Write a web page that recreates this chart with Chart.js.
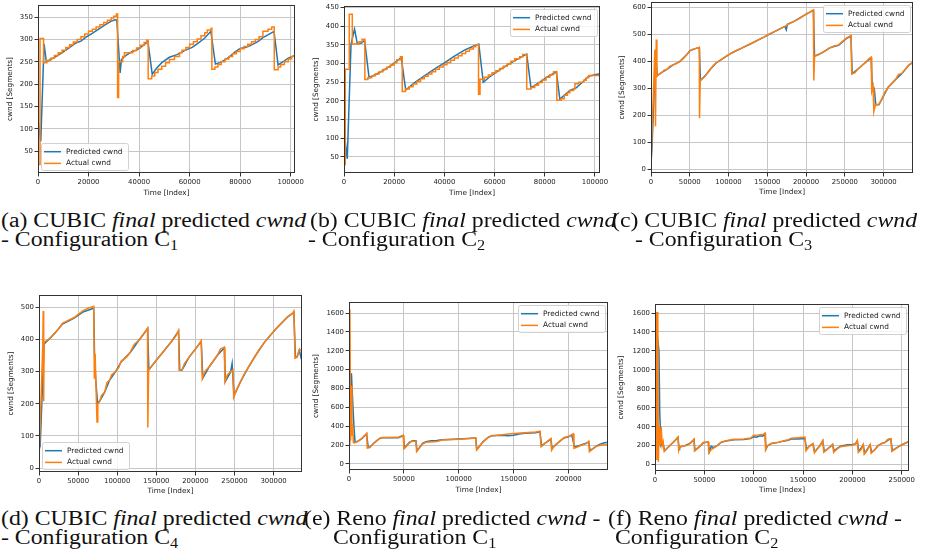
<!DOCTYPE html>
<html>
<head>
<meta charset="utf-8">
<script src="https://cdn.jsdelivr.net/npm/chart.js@4.4.1/dist/chart.umd.min.js"></script>
<style>
  html, body { margin: 0; padding: 0; background: #fff; }
  #page { position: relative; width: 926px; height: 560px; overflow: hidden; background: #fff; }
  #page canvas { position: absolute; }
  .cap { position: absolute; white-space: nowrap; font-family: 'Liberation Serif', serif; font-size: 20.5px; line-height: 20.5px; color: #111; transform-origin: 0 0; }
  .cap .sub { font-size: 14px; line-height: 0; vertical-align: -4px; }
</style>
</head>
<body>
<div id="page"></div>
<script>
// ---- tick values ----
const xTicks20k = [0, 20000, 40000, 60000, 80000, 100000];
const xTicks50k = [0, 50000, 100000, 150000, 200000, 250000, 300000];
const xTicksReno1 = [0, 50000, 100000, 150000, 200000];
const xTicksReno2 = [0, 50000, 100000, 150000, 200000, 250000];
const yTicksA = [50, 100, 150, 200, 250, 300, 350];
const yTicksB = [50, 100, 150, 200, 250, 300, 350, 400, 450];
const yTicksC = [0, 100, 200, 300, 400, 500, 600];
const yTicksD = [0, 100, 200, 300, 400, 500];
const yTicksReno = [0, 200, 400, 600, 800, 1000, 1200, 1400, 1600];

// ---- (a) CUBIC, C1 : [index, cwnd] ----
const aPredicted = [[0,120],[1100,72],[2400,290],[3300,250],[6000,258],[9000,268],[12000,280],[15000,292],[17000,296],[19000,305],[21000,312],[24000,323],[27000,334],[29000,341],[30500,344],[31200,343],[32500,225],[33000,255],[35000,265],[37000,272],[39000,276],[41000,284],[43500,295],[45200,222],[47000,236],[49000,248],[52000,260],[55000,266],[58000,275],[61000,282],[63000,290],[66000,303],[68400,318],[70200,245],[72000,248],[74000,254],[76000,262],[78000,272],[80000,280],[82000,282],[84000,286],[87000,295],[89000,304],[91500,312],[93400,318],[95000,243],[97000,250],[99000,258],[101700,264]];
const aActual = [[0,20],[800,302],[2200,248],[3500,253],[5000,258],[6500,264],[8000,270],[9500,276],[11000,282],[12500,288],[14000,294],[15500,300],[17000,306],[18500,312],[20000,318],[21500,323],[23000,328],[24500,333],[26000,338],[27500,343],[29000,348],[30000,352],[31000,357],[31500,170],[31900,250],[33500,262],[34200,270],[37500,275],[39000,281],[40500,287],[42000,293],[43000,298],[43600,212],[45000,218],[46200,226],[47500,233],[49000,240],[50500,248],[52000,255],[54000,262],[56000,270],[57000,276],[58500,282],[60000,289],[61500,295],[63000,301],[64500,308],[66000,315],[67000,321],[68500,325],[68800,233],[70000,238],[71200,244],[72500,250],[74000,256],[75500,262],[77000,268],[78500,273],[80000,279],[81500,284],[83000,289],[84500,295],[86000,300],[87500,306],[89000,318],[91000,323],[92500,328],[93500,232],[95000,238],[96000,244],[97500,250],[99000,256],[100300,262],[101700,265]];

// ---- (b) CUBIC, C2 ----
const bPredicted = [[0,120],[1300,45],[2800,352],[4200,392],[5300,353],[7000,355],[8200,362],[10000,262],[13000,272],[16000,283],[19000,296],[22000,312],[22800,316],[24600,229],[28000,248],[32000,267],[36000,285],[40000,302],[44000,320],[48000,336],[51000,345],[53700,352],[55500,250],[58000,264],[62000,283],[66000,300],[70000,315],[72800,325],[74500,235],[78000,250],[81000,264],[84600,278],[86000,205],[88000,216],[90000,228],[92500,235],[95000,250],[97500,266],[100000,270],[102000,273]];
const bActual = [[0,30],[500,285],[2100,432],[3300,352],[6000,358],[7200,365],[8300,257],[9500,262],[11000,267],[12500,272],[14000,278],[15500,284],[17000,290],[18500,296],[20000,302],[21000,310],[22500,318],[23200,225],[24500,232],[26000,238],[27500,245],[29000,252],[30500,259],[32000,266],[33500,272],[35000,278],[36500,285],[38000,291],[39500,297],[41000,303],[42500,309],[44000,315],[45500,321],[47000,327],[48500,333],[50000,339],[51500,345],[52500,350],[53600,218],[54200,258],[56000,263],[57500,269],[59000,275],[60500,281],[62000,287],[63500,293],[65000,299],[66500,306],[68000,313],[70000,318],[71200,324],[72800,232],[74500,236],[76000,242],[77500,249],[79000,256],[80500,263],[82000,270],[83500,278],[84800,202],[86500,206],[87800,215],[89000,222],[90000,228],[91500,232],[92000,246],[93500,250],[95500,255],[96500,262],[97500,268],[102000,270]];

// ---- (c) CUBIC, C3 ----
const cPredicted = [[0,20],[1300,83],[6000,430],[8000,348],[14000,360],[21000,372],[28000,387],[37000,400],[46000,425],[50000,440],[58000,449],[62300,452],[63800,330],[70000,348],[76000,370],[84000,395],[93000,412],[104000,432],[117000,450],[130000,468],[145000,490],[160000,512],[170000,527],[173000,530],[174500,518],[176000,538],[185000,550],[198000,572],[209500,590],[211000,420],[221000,433],[230000,450],[236000,456],[242000,460],[252000,485],[258000,495],[259500,355],[266000,370],[274000,390],[284000,414],[285500,300],[288000,300],[290000,240],[294000,240],[298000,262],[306000,305],[316000,335],[324000,357],[333000,388],[338000,397]];
const cActual = [[0,18],[5000,445],[5800,160],[6800,482],[7600,345],[10000,352],[14000,360],[17000,368],[21000,372],[24000,382],[28000,387],[32000,392],[37000,400],[42000,412],[46000,425],[50000,440],[54000,446],[58000,449],[62300,453],[62600,190],[63500,330],[67000,338],[70000,348],[73000,358],[76000,370],[80000,385],[84000,395],[88000,403],[93000,412],[98000,422],[104000,432],[110000,441],[117000,450],[124000,460],[130000,468],[137000,479],[145000,490],[152000,502],[160000,512],[167000,522],[172000,530],[178000,540],[185000,550],[192000,560],[198000,572],[204000,582],[209500,592],[210000,330],[211000,420],[216000,425],[221000,433],[226000,442],[230000,450],[236000,458],[242000,462],[247000,475],[252000,487],[258000,497],[259000,355],[263000,358],[266000,370],[270000,380],[274000,390],[278000,400],[281000,410],[284000,416],[284800,290],[286500,308],[287500,215],[289500,240],[294000,242],[298000,262],[302000,288],[306000,305],[312000,322],[316000,335],[319000,352],[324000,357],[328000,372],[333000,388],[338000,397]];

// ---- (d) CUBIC, C4 ----
const dPredicted = [[0,60],[1500,68],[6500,385],[10000,394],[20000,418],[30000,448],[45000,466],[57000,486],[70000,497],[71000,355],[72500,275],[75000,200],[78000,210],[84000,236],[90000,272],[98000,300],[105000,330],[117000,360],[127000,395],[136000,424],[139000,434],[140500,305],[150000,335],[160000,365],[170000,395],[178500,426],[180000,305],[183000,305],[192000,345],[202000,376],[207500,394],[209500,280],[218000,316],[228000,350],[237000,374],[238500,270],[245000,298],[247000,325],[249500,225],[257000,265],[267000,310],[277000,350],[288000,390],[302000,430],[318000,470],[326000,484],[328000,343],[330000,345],[333000,367],[335000,345],[336400,352]];
const dActual = [[0,20],[4800,380],[5400,488],[6000,208],[6600,392],[10000,396],[15000,405],[20000,420],[25000,432],[30000,450],[38000,460],[45000,468],[50000,478],[57000,490],[63000,497],[70000,503],[70800,278],[71800,355],[73000,246],[74200,143],[75200,198],[78000,210],[80000,226],[84000,236],[87000,266],[90000,272],[93000,290],[98000,300],[102000,312],[105000,332],[112000,345],[117000,362],[122000,385],[127000,396],[132000,410],[136000,425],[138800,435],[139200,126],[140200,305],[145000,320],[150000,335],[155000,350],[160000,365],[165000,380],[170000,395],[175000,410],[178500,428],[179200,305],[183000,306],[186000,325],[192000,345],[197000,360],[202000,376],[207500,396],[208800,278],[212000,300],[218000,316],[224000,336],[228000,350],[232000,370],[237000,376],[237800,268],[241000,290],[245000,300],[248000,305],[249000,220],[252000,240],[257000,265],[262000,290],[267000,310],[272000,330],[277000,350],[282000,370],[288000,390],[295000,410],[302000,430],[310000,450],[318000,470],[324000,480],[326000,488],[327500,342],[330000,345],[333000,368],[336400,368]];

// ---- (e) Reno, C1 ----
const ePredicted = [[0,200],[1000,700],[2200,960],[3200,700],[4500,400],[5500,230],[8000,240],[12000,272],[16000,318],[17500,175],[19000,178],[22000,215],[25000,245],[28000,270],[30000,278],[40000,278],[45000,278],[49500,300],[50500,170],[52000,190],[55000,228],[58000,245],[61000,245],[62000,140],[63000,155],[67000,218],[70000,235],[75000,245],[80000,250],[85000,258],[100000,265],[115500,275],[116500,155],[118000,175],[122000,235],[127000,283],[130000,298],[140000,305],[145000,300],[150000,305],[155000,318],[160000,325],[170000,330],[174000,340],[175500,190],[178000,215],[184000,262],[185000,165],[191000,230],[196000,275],[200000,288],[203000,305],[205500,180],[210000,195],[216000,220],[218500,232],[219500,145],[222000,160],[226000,195],[230000,215],[233000,225],[236000,230]];
const eActual = [[0,200],[800,1640],[1500,250],[2100,830],[2700,300],[3300,420],[4000,225],[5000,222],[8000,240],[12000,275],[15000,310],[16200,325],[16600,168],[19000,175],[22000,212],[25000,242],[28000,272],[30000,280],[45000,282],[47000,295],[49500,305],[50000,160],[52000,182],[55000,222],[57000,242],[61000,242],[61600,132],[63000,152],[67000,210],[70000,230],[80000,237],[85000,255],[100000,262],[110000,270],[115500,276],[116200,147],[118000,172],[122000,232],[127000,282],[130000,300],[140000,310],[147000,320],[160000,332],[170000,340],[174000,348],[175000,182],[178000,212],[181000,242],[184000,270],[184600,145],[187000,192],[191000,232],[196000,280],[200000,290],[203000,310],[204200,320],[205000,165],[208000,180],[212000,200],[216000,215],[218400,242],[219000,130],[221000,150],[225000,185],[230000,200],[236000,205]];

// ---- (f) Reno, C2 ----
const fPredicted = [[0,200],[2000,1400],[4000,1200],[4800,550],[6000,200],[8000,230],[9800,145],[12000,170],[18000,232],[23300,288],[24500,160],[25000,185],[30000,198],[36000,228],[39500,265],[40500,150],[46000,198],[49000,232],[54000,238],[55000,135],[57000,195],[59000,180],[63000,200],[67000,235],[72000,250],[80000,262],[90000,265],[97000,275],[100000,295],[103000,290],[106000,305],[109000,300],[111500,325],[112500,165],[114000,198],[118000,222],[125000,235],[130000,248],[135000,258],[138000,270],[145000,270],[152000,275],[153500,160],[156000,192],[160000,218],[162000,135],[167000,198],[170000,250],[171500,140],[175000,168],[180000,212],[181500,145],[185000,175],[188000,195],[195000,210],[200000,212],[203000,218],[205000,250],[206500,140],[211000,208],[212500,120],[218000,208],[219500,130],[223000,160],[226000,200],[230000,225],[233000,235],[237000,265],[239000,270],[240500,150],[244000,172],[248000,198],[254000,228],[257400,242]];
const fActual = [[0,200],[1200,1610],[1900,50],[2800,1610],[3400,30],[4300,410],[5300,200],[6300,400],[7300,200],[8300,240],[9300,140],[12000,170],[15000,200],[18000,232],[21000,262],[23300,292],[24000,152],[25000,190],[30000,200],[33000,205],[36000,230],[38500,258],[39500,270],[40000,145],[43000,170],[46000,200],[49000,235],[54000,240],[54500,125],[57000,160],[61000,185],[63000,200],[67000,238],[72000,252],[80000,268],[90000,270],[97000,280],[100000,310],[105000,312],[110000,322],[111500,332],[112000,155],[114000,200],[118000,225],[125000,236],[130000,250],[135000,262],[138000,280],[145000,285],[152000,290],[153000,145],[156000,190],[160000,222],[161500,125],[164000,165],[167000,200],[170000,255],[171000,130],[175000,165],[178000,192],[180000,215],[181000,130],[185000,170],[188000,190],[195000,200],[200000,205],[203000,215],[205000,255],[206000,130],[209000,160],[211000,212],[212000,110],[215000,150],[218000,212],[219000,120],[223000,160],[226000,200],[230000,225],[233000,232],[235000,260],[237000,270],[239000,275],[240000,140],[244000,170],[248000,195],[251000,210],[254000,230],[257400,245]];

const BLUE = '#1f77b4';
const ORANGE = '#ff7f0e';
const TEXT = '#222';
const FONT = 'DejaVu Sans';

const page = document.getElementById('page');

// plot box [left, right, top, bottom] in page pixels, plus axis strip sizes
const panels = [
  { box: [38, 295, 5, 173],   axisW: 32, axisH: 24, xMax: 101700, yMin: 1,   yMax: 377,  xTicks: xTicks20k,   yTicks: yTicksA,    predicted: aPredicted, actual: aActual, stepped: true,  legend: 'lowerLeft' },
  { box: [344, 600, 6, 173],  axisW: 32, axisH: 24, xMax: 102000, yMin: 7,   yMax: 454,  xTicks: xTicks20k,   yTicks: yTicksB,    predicted: bPredicted, actual: bActual, stepped: true,  legend: 'upperRight' },
  { box: [651, 913, 2, 173],  axisW: 33, axisH: 23, xMax: 338000, yMin: -13, yMax: 621,  xTicks: xTicks50k,   yTicks: yTicksC,    predicted: cPredicted, actual: cActual, stepped: false, legend: 'upperRight' },
  { box: [39, 302, 295, 472], axisW: 32, axisH: 23, xMax: 336400, yMin: -12, yMax: 538,  xTicks: xTicks50k,   yTicks: yTicksD,    predicted: dPredicted, actual: dActual, stepped: false, legend: 'lowerLeft' },
  { box: [349, 608, 302, 470],axisW: 37, axisH: 24, xMax: 236000, yMin: -64, yMax: 1717, xTicks: xTicksReno1, yTicks: yTicksReno, predicted: ePredicted, actual: eActual, stepped: false, legend: 'upperRight' },
  { box: [655, 909, 304, 471],axisW: 38, axisH: 23, xMax: 257400, yMin: -67, yMax: 1695, xTicks: xTicksReno2, yTicks: yTicksReno, predicted: fPredicted, actual: fActual, stepped: false, legend: 'upperRight' }
];

// black frame round the plotting area (all four spines)
const frame = {
  id: 'frame',
  afterDatasetsDraw(chart) {
    const { ctx, chartArea: a } = chart;
    ctx.save();
    ctx.strokeStyle = '#333';
    ctx.lineWidth = 1;
    ctx.strokeRect(a.left + 0.5, a.top + 0.5, a.right - a.left - 1, a.bottom - a.top - 1);
    ctx.restore();
  }
};

// small boxed legend sitting inside the axes
function boxLegend(corner) {
  return {
    id: 'boxLegend',
    afterDatasetsDraw(chart) {
      const { ctx, chartArea: a } = chart;
      const w = 87, h = 27, gap = 3;
      const x = corner === 'lowerLeft' ? a.left + gap : a.right - gap - w;
      const y = corner === 'lowerLeft' ? a.bottom - gap - h : a.top + gap;
      ctx.save();
      ctx.beginPath();
      ctx.roundRect(x + 0.5, y + 0.5, w, h, 2);
      ctx.fillStyle = 'rgba(255,255,255,0.8)';
      ctx.fill();
      ctx.strokeStyle = 'rgba(204,204,204,0.9)';
      ctx.lineWidth = 1;
      ctx.stroke();
      ctx.font = '7.4px "' + FONT + '"';
      ctx.textBaseline = 'middle';
      ctx.fillStyle = TEXT;
      chart.data.datasets.forEach((ds, i) => {
        const cy = y + 8.7 + i * 11.7;
        ctx.beginPath();
        ctx.moveTo(x + 3, cy);
        ctx.lineTo(x + 20, cy);
        ctx.strokeStyle = ds.borderColor;
        ctx.lineWidth = 1.5;
        ctx.stroke();
        ctx.fillText(ds.label, x + 25, cy);
      });
      ctx.restore();
    }
  };
}

function toPoints(pairs) {
  return pairs.map(([x, y]) => ({ x, y }));
}

function axisCommon(ticks, title) {
  return {
    type: 'linear',
    afterBuildTicks: ax => { ax.ticks = ticks.map(v => ({ value: v })); },
    ticks: {
      autoSkip: false, maxRotation: 0, padding: 1.5, color: TEXT,
      font: { family: FONT, size: 6.9 },
      callback: v => String(v)
    },
    grid: { color: '#c6c6c6', lineWidth: 1, drawTicks: true, tickLength: 3.5, tickColor: '#333', tickWidth: 1 },
    border: { display: false },
    title: { display: true, text: title, color: TEXT, padding: 0, font: { family: FONT, size: 7.3 } }
  };
}

const padTop = 12, padRight = 25;

panels.forEach(p => {
  const [left, right, top, bottom] = p.box;
  const w = p.axisW + (right - left) + padRight;
  const h = padTop + (bottom - top) + p.axisH;
  const canvas = document.createElement('canvas');
  canvas.width = w;
  canvas.height = h;
  canvas.style.left = (left - p.axisW) + 'px';
  canvas.style.top = (top - padTop) + 'px';
  canvas.style.width = w + 'px';
  canvas.style.height = h + 'px';
  page.appendChild(canvas);

  const xAxis = axisCommon(p.xTicks, 'Time [Index]');
  xAxis.min = 0;
  xAxis.max = p.xMax;
  xAxis.afterFit = ax => { ax.height = p.axisH; };
  const yAxis = axisCommon(p.yTicks, 'cwnd [Segments]');
  yAxis.min = p.yMin;
  yAxis.max = p.yMax;
  yAxis.afterFit = ax => { ax.width = p.axisW; };

  new Chart(canvas, {
    type: 'line',
    data: {
      datasets: [
        { label: 'Predicted cwnd', data: toPoints(p.predicted), borderColor: BLUE, order: 1 },
        { label: 'Actual cwnd', data: toPoints(p.actual), borderColor: ORANGE, order: 0, stepped: p.stepped ? 'before' : false }
      ]
    },
    options: {
      responsive: false,
      animation: false,
      devicePixelRatio: 1,
      parsing: false,
      layout: { padding: { left: 0, top: padTop, right: padRight, bottom: 0 } },
      elements: { point: { radius: 0 }, line: { borderWidth: 1.5, tension: 0, fill: false } },
      plugins: { legend: { display: false }, tooltip: { enabled: false } },
      scales: { x: xAxis, y: yAxis }
    },
    plugins: [frame, boxLegend(p.legend)]
  });
});

// ---- sub-figure captions ----
const sub = n => '<span class="sub">' + n + '</span>';
const captions = [
  { x: 1,   base: 227,   html: '(a) CUBIC <i>final</i> predicted <i>cwnd</i>', ref: true },
  { x: 310, base: 227,   html: '(b) CUBIC <i>final</i> predicted <i>cwnd</i>' },
  { x: 612, base: 227,   html: '(c) CUBIC <i>final</i> predicted <i>cwnd</i>' },
  { x: 1,   base: 246.5, html: '- Configuration C' + sub(1) },
  { x: 308, base: 246.5, html: '- Configuration C' + sub(2) },
  { x: 635, base: 246.5, html: '- Configuration C' + sub(3) },
  { x: 1,   base: 525,   html: '(d) CUBIC <i>final</i> predicted <i>cwnd</i>' },
  { x: 304, base: 525,   html: '(e) Reno <i>final</i> predicted <i>cwnd</i> -' },
  { x: 608, base: 525,   html: '(f) Reno <i>final</i> predicted <i>cwnd</i> -' },
  { x: 1,   base: 544,   html: '- Configuration C' + sub(4) },
  { x: 333, base: 544,   html: 'Configuration C' + sub(1) },
  { x: 615, base: 544,   html: 'Configuration C' + sub(2) }
];
const capEls = [];
let refEl = null;
captions.forEach(c => {
  const d = document.createElement('div');
  d.className = 'cap';
  d.innerHTML = c.html;
  d.style.left = c.x + 'px';
  d.style.top = (c.base - 17.2) + 'px';
  page.appendChild(d);
  capEls.push(d);
  if (c.ref) refEl = d;
});
function fitCaptions() {
  const sx = 305 / refEl.offsetWidth;
  capEls.forEach(d => { d.style.transform = 'scaleX(' + sx.toFixed(4) + ')'; });
}
fitCaptions();
if (document.fonts && document.fonts.ready) document.fonts.ready.then(fitCaptions);
</script>
</body>
</html>
